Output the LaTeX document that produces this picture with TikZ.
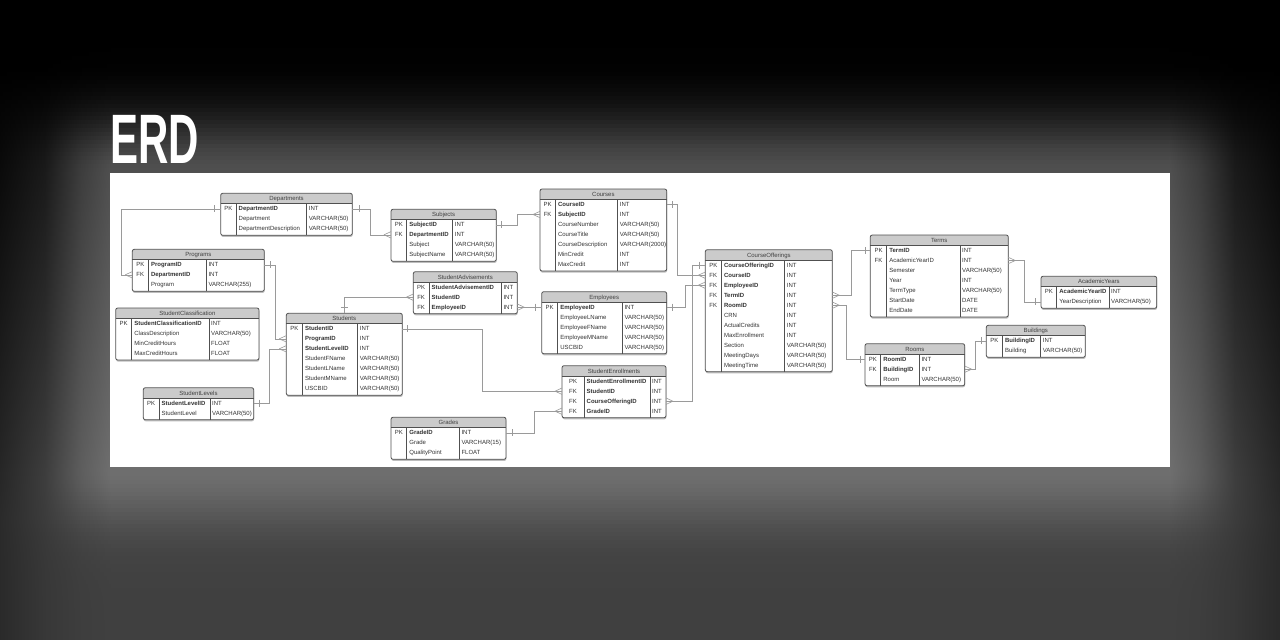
\documentclass[tikz,border=0pt]{standalone}
\usepackage{fontspec}
\setmainfont{Liberation Sans}
\usetikzlibrary{calc}
\definecolor{hdr}{HTML}{CBCBCB}
\definecolor{tcol}{HTML}{505050}
\definecolor{relc}{HTML}{9A9A9A}
\definecolor{fldc}{HTML}{333333}
\definecolor{ttlc}{HTML}{404040}
\definecolor{shadc}{HTML}{BDBDBD}
\newcommand\styB{\bfseries}
\newcommand\styN{}
\tikzset{
  tline/.style={draw=tcol, line width=0.8pt},
  rel/.style={draw=relc, line width=0.6pt},
  ttl/.style={anchor=base, inner sep=0pt, font=\fontsize{6}{7}\selectfont, text=ttlc},
  fldk/.style={anchor=base, inner sep=0pt, font=\fontsize{6}{7}\selectfont, text=fldc},
  fld/.style={anchor=base west, inner sep=0pt, font=\fontsize{6}{7}\selectfont, text=fldc},
}
% background tone: base(y) brightened by a glow at distance d from the panel
\newcommand\bgtone[4]{% #1 macro out, #2 base, #3 distance, #4 vignette factor
  \pgfmathsetmacro#1{#4*(#2+0.27*exp(-(#3/55)*(#3/55))*(255-#2))/255}}
% #1 name #2 x0 #3 y0 #4 xk #5 xt #6 x1 #7 nrows #8 title #9 rows
\newcommand\erdtable[9]{%
  \pgfmathsetmacro\erdyh{#3+10.5}%
  \pgfmathsetmacro\erdyb{#3+10.5+10*#7+1.5}%
  \fill[shadc,rounded corners=2] ({#2+0.4},{#3+1.6}) rectangle ({#6+0.4},{\erdyb+1.6});
  \begin{scope}
    \clip[rounded corners=2] (#2,#3) rectangle (#6,\erdyb);
    \fill[white] (#2,#3) rectangle (#6,\erdyb);
    \fill[hdr] (#2,#3) rectangle (#6,\erdyh);
  \end{scope}
  \draw[tline,rounded corners=2] (#2,#3) rectangle (#6,\erdyb);
  \draw[tline] (#2,\erdyh) -- (#6,\erdyh) (#4,\erdyh) -- (#4,\erdyb) (#5,\erdyh) -- (#5,\erdyb);
  \coordinate (#1-top) at ({(#2+#6)/2},#3);
  \node[ttl] (#1) at ({(#2+#6)/2},{#3+5.25+2.1}) {#8};
  \foreach \rwk/\rwb/\rwf/\rwt [count=\i] in {#9} {
    \pgfmathsetmacro\erdy{\erdyh+10*\i-5}
    \coordinate (#1-L\i) at (#2,\erdy);
    \coordinate (#1-R\i) at (#6,\erdy);
    \node[fldk] (#1-k\i) at ({(#2+#4)/2},{\erdy+2.1}) {\rwk};
    \node[fld] (#1-f\i) at ({#4+2.5},{\erdy+2.1}) {\csname sty\rwb\endcsname\rwf};
    \node[fld] (#1-t\i) at ({#5+2},{\erdy+2.1}) {\rwt};
  }
}
\newcommand\crow[2]{\draw[rel] ($(#1)+(#2*7,0)$) -- ($(#1)+(0,-3.2)$) ($(#1)+(#2*7,0)$) -- ($(#1)+(0,3.2)$);}
\newcommand\onebar[2]{\draw[rel] ($(#1)+(#2,-3.5)$) -- ($(#1)+(#2,3.5)$);}
\newcommand\onebarv[2]{\draw[rel] ($(#1)+(-3.5,#2)$) -- ($(#1)+(3.5,#2)$);}
\begin{document}
\begin{tikzpicture}[x=1pt,y=-1pt]
\useasboundingbox (0,0) rectangle (1280,640);
% background, drawn as horizontal bands
\foreach \s in {0,...,159} {
  \pgfmathsetmacro\yy{\s*4+2}
  \pgfmathsetmacro\ba{max(0,min(64,0.142222*(\yy-70)))}
  \pgfmathsetmacro\dy{max(0,max(173-\yy,\yy-467))}
  \pgfmathsetmacro\dB{10*sqrt(9+(\dy/10)*(\dy/10))}
  \pgfmathsetmacro\dC{10*sqrt(42.25+(\dy/10)*(\dy/10))}
  \pgfmathsetmacro\dD{10*sqrt(121+(\dy/10)*(\dy/10))}
  \bgtone\ca{\ba}{\dy}{1}
  \bgtone\cb{\ba}{\dB}{0.962}
  \bgtone\cc{\ba}{\dC}{0.867}
  \bgtone\cd{\ba}{\dD}{0.66}
  \definecolor{sA}{gray}{\ca}
  \definecolor{sB}{gray}{\cb}
  \definecolor{sC}{gray}{\cc}
  \definecolor{sD}{gray}{\cd}
  \fill[sA] (110,{\s*4}) rectangle (1170,{\s*4+4.6});
  \shade[left color=sB, right color=sA] (80,{\s*4}) rectangle (110.5,{\s*4+4.6});
  \shade[left color=sC, right color=sB] (45,{\s*4}) rectangle (80.5,{\s*4+4.6});
  \shade[left color=sD, right color=sC] (0,{\s*4}) rectangle (45.5,{\s*4+4.6});
  \shade[left color=sA, right color=sB] (1169.5,{\s*4}) rectangle (1200,{\s*4+4.6});
  \shade[left color=sB, right color=sC] (1199.5,{\s*4}) rectangle (1235,{\s*4+4.6});
  \shade[left color=sC, right color=sD] (1234.5,{\s*4}) rectangle (1280,{\s*4+4.6});
}
\node[anchor=base west, inner sep=0pt, text=white, font=\fontsize{70}{70}\selectfont\bfseries] (erd) at (110,163) {\scalebox{0.6}[1]{ERD}};
\fill[white] (110,173) rectangle (1170,467);

\erdtable{Departments}{220.7}{193.3}{236}{306.7}{352.3}{3}{Departments}{PK/B/DepartmentID/INT, /N/Department/VARCHAR(50), /N/DepartmentDescription/VARCHAR(50)}
\erdtable{Programs}{132.3}{249.3}{148.3}{206.3}{264.3}{3}{Programs}{PK/B/ProgramID/INT, FK/B/DepartmentID/INT, /N/Program/VARCHAR(255)}
\erdtable{StudentClassification}{115.7}{308}{131.7}{209}{259}{4}{StudentClassification}{PK/B/StudentClassificationID/INT, /N/ClassDescription/VARCHAR(50), /N/MinCreditHours/FLOAT, /N/MaxCreditHours/FLOAT}
\erdtable{StudentLevels}{143.3}{387.7}{159}{210}{253.7}{2}{StudentLevels}{PK/B/StudentLevelID/INT, /N/StudentLevel/VARCHAR(50)}
\erdtable{Students}{286.3}{313.3}{302.3}{357.7}{402.3}{7}{Students}{PK/B/StudentID/INT, /B/ProgramID/INT, /B/StudentLevelID/INT, /N/StudentFName/VARCHAR(50), /N/StudentLName/VARCHAR(50), /N/StudentMName/VARCHAR(50), /N/USCBID/VARCHAR(50)}
\erdtable{Subjects}{391}{209.3}{406.7}{452.7}{496.3}{4}{Subjects}{PK/B/SubjectID/INT, FK/B/DepartmentID/INT, /N/Subject/VARCHAR(50), /N/SubjectName/VARCHAR(50)}
\erdtable{Courses}{540}{189}{555.3}{617.7}{666.7}{7}{Courses}{PK/B/CourseID/INT, FK/B/SubjectID/INT, /N/CourseNumber/VARCHAR(50), /N/CourseTitle/VARCHAR(50), /N/CourseDescription/VARCHAR(2000), /N/MinCredit/INT, /N/MaxCredit/INT}
\erdtable{StudentAdvisements}{413.3}{271.7}{429}{501.3}{517.3}{3}{StudentAdvisements}{PK/B/StudentAdvisementID/INT, FK/B/StudentID/INT, FK/B/EmployeeID/INT}
\erdtable{Employees}{541.7}{291.7}{557.7}{622.3}{666.7}{5}{Employees}{PK/B/EmployeeID/INT, /N/EmployeeLName/VARCHAR(50), /N/EmployeeFName/VARCHAR(50), /N/EmployeeMName/VARCHAR(50), /N/USCBID/VARCHAR(50)}
\erdtable{StudentEnrollments}{562}{365.7}{584}{650}{666}{4}{StudentEnrollments}{PK/B/StudentEnrollmentID/INT, FK/B/StudentID/INT, FK/B/CourseOfferingID/INT, FK/B/GradeID/INT}
\erdtable{Grades}{391}{417.3}{406.7}{459.3}{506}{3}{Grades}{PK/B/GradeID/INT, /N/Grade/VARCHAR(15), /N/QualityPoint/FLOAT}
\erdtable{CourseOfferings}{705.3}{249.7}{721.3}{784.7}{832.3}{11}{CourseOfferings}{PK/B/CourseOfferingID/INT, FK/B/CourseID/INT, FK/B/EmployeeID/INT, FK/B/TermID/INT, FK/B/RoomID/INT, /N/CRN/INT, /N/ActualCredits/INT, /N/MaxEnrollment/INT, /N/Section/VARCHAR(50), /N/MeetingDays/VARCHAR(50), /N/MeetingTime/VARCHAR(50)}
\erdtable{Terms}{870.3}{235}{886.7}{960}{1008.3}{7}{Terms}{PK/B/TermID/INT, FK/N/AcademicYearID/INT, /N/Semester/VARCHAR(50), /N/Year/INT, /N/TermType/VARCHAR(50), /N/StartDate/DATE, /N/EndDate/DATE}
\erdtable{AcademicYears}{1041}{276.3}{1056.7}{1109}{1156.7}{2}{AcademicYears}{PK/B/AcademicYearID/INT, /N/YearDescription/VARCHAR(50)}
\erdtable{Buildings}{986.3}{325.3}{1002.3}{1040.7}{1085.3}{2}{Buildings}{PK/B/BuildingID/INT, /N/Building/VARCHAR(50)}
\erdtable{Rooms}{865}{343.7}{880.7}{919.3}{964.7}{3}{Rooms}{PK/B/RoomID/INT, FK/B/BuildingID/INT, /N/Room/VARCHAR(50)}

% relationships
\draw[rel] (Departments-L1) -- ++(-99.7,0) |- (Programs-L2);
\onebar{Departments-L1}{-6}\crow{Programs-L2}{-1}
\draw[rel] (Departments-R1) -- ++(17.7,0) |- (Subjects-L2);
\onebar{Departments-R1}{6.5}\crow{Subjects-L2}{-1}
\draw[rel] (Programs-R1) -- ++(11,0) |- (Students-L2);
\onebar{Programs-R1}{6}\crow{Students-L2}{-1}
\draw[rel] (StudentLevels-R1) -- ++(15.6,0) |- (Students-L3);
\onebar{StudentLevels-R1}{5.6}\crow{Students-L3}{-1}
\draw[rel] (Students-top) |- (StudentAdvisements-L2);
\onebarv{Students-top}{-5.6}\crow{StudentAdvisements-L2}{-1}
\draw[rel] (Students-R1) -- ++(80,0) |- (StudentEnrollments-L2);
\onebar{Students-R1}{4.5}\crow{StudentEnrollments-L2}{-1}
\draw[rel] (Employees-L1) -- (StudentAdvisements-R3);
\onebar{Employees-L1}{-6}\crow{StudentAdvisements-R3}{1}
\draw[rel] (Subjects-R1) -- ++(21,0) |- (Courses-L2);
\onebar{Subjects-R1}{5.4}\crow{Courses-L2}{-1}
\draw[rel] (Courses-R1) -- ++(10.6,0) |- (CourseOfferings-L2);
\onebar{Courses-R1}{5.6}\crow{CourseOfferings-L2}{-1}
\draw[rel] (Employees-R1) -- ++(18.3,0) |- (CourseOfferings-L3);
\onebar{Employees-R1}{5.6}\crow{CourseOfferings-L3}{-1}
\draw[rel] (CourseOfferings-L1) -- ++(-12.6,0) |- (StudentEnrollments-R3);
\onebar{CourseOfferings-L1}{-6}\crow{StudentEnrollments-R3}{1}
\draw[rel] (Grades-R1) -- ++(28.3,0) |- (StudentEnrollments-L4);
\onebar{Grades-R1}{6.3}\crow{StudentEnrollments-L4}{-1}
\draw[rel] (Terms-L1) -- ++(-18.6,0) |- (CourseOfferings-R4);
\onebar{Terms-L1}{-5.3}\crow{CourseOfferings-R4}{1}
\draw[rel] (Rooms-L1) -- ++(-18.3,0) |- (CourseOfferings-R5);
\onebar{Rooms-L1}{-5}\crow{CourseOfferings-R5}{1}
\draw[rel] (AcademicYears-L2) -- ++(-17,0) |- (Terms-R2);
\onebar{AcademicYears-L2}{-5.5}\crow{Terms-R2}{1}
\draw[rel] (Buildings-L1) -- ++(-11,0) |- (Rooms-R2);
\onebar{Buildings-L1}{-5}\crow{Rooms-R2}{1}
\end{tikzpicture}
\end{document}
